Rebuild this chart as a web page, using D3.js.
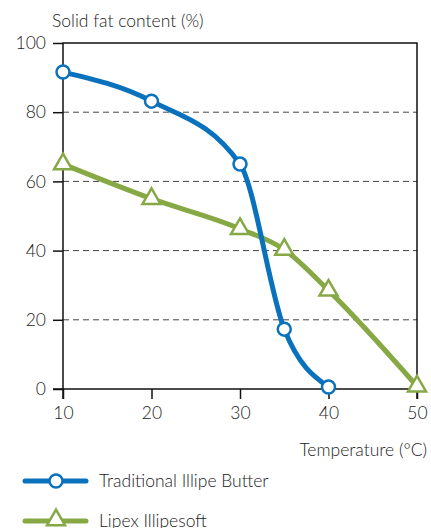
<!DOCTYPE html>
<html>
<head lang="en">
	<meta charset="UTF-8">
	<title>Solid fat content</title>
	<style>
	body { margin: 0; background: #fff; }
	text { font-family: Lato, "Open Sans", sans-serif; font-weight: 300; fill: #1a1a1a; }
	.grid { stroke: #444; stroke-dasharray: 6,4; stroke-width: 1; }
	.frame { stroke: #111; stroke-width: 1.5; fill: none; }
	</style>
	<script src="https://cdn.jsdelivr.net/npm/d3@7"></script>
</head>
<body>
<script>
	// data
	var butterTemps = [10, 20, 30, 35, 40];
	var butterSfc = [91.6, 83.2, 65, 17.3, 0.6];
	var softTemps = [10, 20, 30, 35, 40, 50];
	var softSfc = [65, 55, 46.3, 40.3, 28.5, 0.8];
	var yTicks = [0, 20, 40, 60, 80, 100];
	var xTicks = [10, 20, 30, 40, 50];
	var seriesNames = ["Traditional Illipe Butter", "Lipex Illipesoft"];

	var blue = "#0a72bd";
	var green = "#86a845";

	var width = 431, height = 528;
	// plot box (window.top is taken, so m-prefixed names)
	var mLeft = 63, mRight = 417, mTop = 43, mBottom = 389;

	var svg = d3.select("body").append("svg")
		.attr("width", width)
		.attr("height", height);

	var x = d3.scaleLinear().domain([10, 50]).range([mLeft, mRight]);
	var y = d3.scaleLinear().domain([0, 100]).range([mBottom, mTop]);

	// dashed grid lines
	svg.selectAll(".grid")
		.data(yTicks.filter(function(d){ return d > 0 && d < 100; }))
		.enter().append("line")
		.attr("class", "grid")
		.attr("x1", mLeft).attr("x2", mRight)
		.attr("y1", function(d){ return y(d); })
		.attr("y2", function(d){ return y(d); });

	// axes, ticks stick out 10px
	var yAxis = svg.append("g")
		.attr("transform", "translate(" + mLeft + ",0)")
		.call(d3.axisLeft(y).tickValues(yTicks).tickSize(10).tickPadding(7));
	var xAxis = svg.append("g")
		.attr("transform", "translate(0," + mBottom + ")")
		.call(d3.axisBottom(x).tickValues(xTicks).tickSize(10).tickPadding(8));

	[yAxis, xAxis].forEach(function(g){
		g.select(".domain").remove();
		g.selectAll("line").attr("stroke", "#111").attr("stroke-width", 1.5);
		g.selectAll("text").style("font-size", "17.5px").attr("fill", "#1a1a1a");
	});

	// frame
	svg.append("path").attr("class", "frame")
		.attr("d", "M" + mLeft + "," + (mBottom + 10) + "V" + mTop + "H" + mRight + "V" + (mBottom + 10));
	svg.append("line").attr("class", "frame")
		.attr("x1", mLeft - 10).attr("x2", mRight)
		.attr("y1", mBottom).attr("y2", mBottom);

	// axis titles
	svg.append("text")
		.attr("x", 52).attr("y", 27)
		.style("font-size", "17.5px")
		.text("Solid fat content (%)");
	svg.append("text")
		.attr("x", 427).attr("y", 456)
		.attr("text-anchor", "end")
		.style("font-size", "17.5px")
		.text("Temperature (\u00B0C)");

	var line = d3.line()
		.x(function(d){ return x(d[0]); })
		.y(function(d){ return y(d[1]); })
		.curve(d3.curveMonotoneX);

	var butter = d3.zip(butterTemps, butterSfc);
	var soft = d3.zip(softTemps, softSfc);

	svg.append("path")
		.datum(soft)
		.attr("d", line)
		.attr("fill", "none")
		.attr("stroke", green)
		.attr("stroke-width", 5)
		.attr("stroke-linejoin", "round");

	svg.append("path")
		.datum(butter)
		.attr("d", line)
		.attr("fill", "none")
		.attr("stroke", blue)
		.attr("stroke-width", 5)
		.attr("stroke-linejoin", "round");

	var tri = d3.symbol().type(d3.symbolTriangle).size(140);

	svg.selectAll(".tri")
		.data(soft)
		.enter().append("path")
		.attr("class", "tri")
		.attr("transform", function(d){ return "translate(" + x(d[0]) + "," + y(d[1]) + ")"; })
		.attr("d", tri)
		.attr("fill", "#fff")
		.attr("stroke", green)
		.attr("stroke-width", 2.5);

	svg.selectAll(".dot")
		.data(butter)
		.enter().append("circle")
		.attr("class", "dot")
		.attr("cx", function(d){ return x(d[0]); })
		.attr("cy", function(d){ return y(d[1]); })
		.attr("r", 6.5)
		.attr("fill", "#fff")
		.attr("stroke", blue)
		.attr("stroke-width", 2.5);

	// legend
	var legend = svg.selectAll(".legend")
		.data(seriesNames)
		.enter().append("g")
		.attr("class", "legend")
		.attr("transform", function(d, i){ return "translate(0," + (481 + i * 40) + ")"; });

	legend.append("line")
		.attr("x1", 25).attr("x2", 86)
		.attr("stroke", function(d, i){ return i ? green : blue; })
		.attr("stroke-width", 5)
		.attr("stroke-linecap", "round");

	legend.each(function(d, i){
		var g = d3.select(this);
		if (i === 0) {
			g.append("circle").attr("cx", 56).attr("r", 6.5)
				.attr("fill", "#fff").attr("stroke", blue).attr("stroke-width", 2.5);
		} else {
			g.append("path").attr("transform", "translate(56,-1)").attr("d", tri)
				.attr("fill", "#fff").attr("stroke", green).attr("stroke-width", 2.5);
		}
	});

	legend.append("text")
		.attr("x", 99).attr("y", 6)
		.style("font-size", "17.5px")
		.text(function(d){ return d; });
</script>
</body>
</html>
